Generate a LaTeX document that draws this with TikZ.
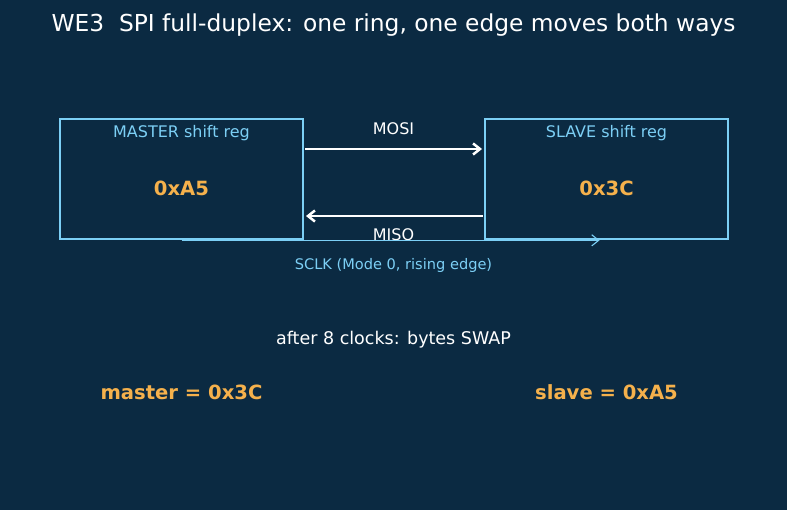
\documentclass[tikz,border=0pt]{standalone}
\usepackage{fontspec}
\setmainfont{DejaVu Sans}
\usetikzlibrary{arrows.meta}
\definecolor{bgcol}{HTML}{0B2A42}
\definecolor{regblue}{HTML}{7CCFF5}
\definecolor{valorange}{HTML}{F5B14C}
\begin{document}
\begin{tikzpicture}[x=0.72pt, y=-0.72pt, >={Straight Barb[length=5pt,width=8pt]},
    regbox/.style={draw=regblue, line width=1.9pt, minimum width=243*0.72pt, minimum height=120*0.72pt, inner sep=0pt},
    reglabel/.style={text=regblue, font=\fontsize{11.5}{13}\selectfont},
    regval/.style={text=valorange, font=\fontsize{14.1}{17}\selectfont\bfseries},
    wire/.style={white, line width=1.8pt, ->},
    wirelabel/.style={text=white, font=\fontsize{11.5}{13}\selectfont}]
    \fill[bgcol] (0,0) rectangle (787,510);
    \useasboundingbox (0,0) rectangle (787,510);
    \node[text=white, font=\fontsize{16.8}{20}\selectfont] (title) at (393.5,25) {WE3\ \ SPI full-duplex: one ring, one edge moves both ways};
    % shift registers
    \node[regbox] (master) at (181.5,179) {};
    \node[regbox] (slave) at (606.5,179) {};
    \node[reglabel] (mname) at (181.5,133) {MASTER shift reg};
    \node[reglabel] (sname) at (606.5,133) {SLAVE shift reg};
    \node[regval] (mval) at (181.5,188) {0xA5};
    \node[regval] (sval) at (606.5,188) {0x3C};
    % data lines
    \coordinate (mosiA) at (305,149);
    \coordinate (mosiB) at (482,149);
    \coordinate (misoA) at (483,216);
    \coordinate (misoB) at (306,216);
    \draw[wire] (mosiA) -- (mosiB);
    \draw[wire] (misoA) -- (misoB);
    \node[wirelabel] (mosi) at (393.5,129) {MOSI};
    \node[wirelabel] (miso) at (393.5,235) {MISO};
    % clock
    \draw[regblue, line width=0.8pt, ->, shorten >=5pt] (master.south) -- (slave.south);
    \node[text=regblue, font=\fontsize{10.5}{12}\selectfont] (sclk) at (393.5,265) {SCLK (Mode 0, rising edge)};
    % result
    \node[text=white, font=\fontsize{12.6}{15}\selectfont] (after) at (393.5,340) {after 8 clocks: bytes SWAP};
    \node[regval] (mres) at (181.5,392) {master = 0x3C};
    \node[regval] (sres) at (606.5,392) {slave = 0xA5};
\end{tikzpicture}
\end{document}
